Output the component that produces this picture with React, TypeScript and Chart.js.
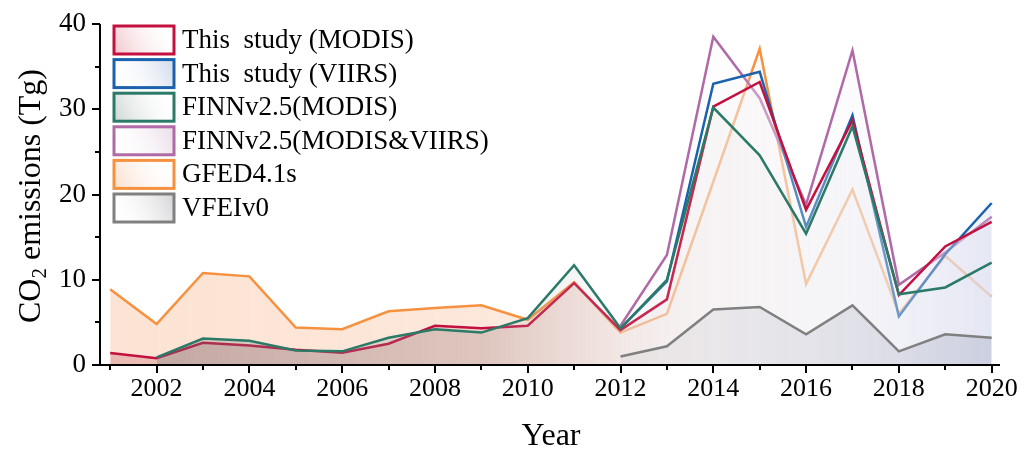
import React, { useEffect, useRef } from "react";
import { Chart, registerables } from "chart.js";

Chart.register(...registerables);

// ---------- data ----------
const years = [2001, 2002, 2003, 2004, 2005, 2006, 2007, 2008, 2009, 2010, 2011, 2012, 2013, 2014, 2015, 2016, 2017, 2018, 2019, 2020];
const xTickYears = [2002, 2004, 2006, 2008, 2010, 2012, 2014, 2016, 2018, 2020];
const yTickValues = [0, 10, 20, 30, 40];

const seriesLabels = [
  "This  study (MODIS)",
  "This  study (VIIRS)",
  "FINNv2.5(MODIS)",
  "FINNv2.5(MODIS&VIIRS)",
  "GFED4.1s",
  "VFEIv0",
];

const thisStudyModis = [1.4, 0.8, 2.6, 2.3, 1.8, 1.45, 2.5, 4.6, 4.3, 4.6, 9.6, 4.1, 7.7, 30.3, 33.2, 18.2, 28.7, 8.2, 13.9, 16.8];
const thisStudyViirs = [null, null, null, null, null, null, null, null, null, null, null, 4.3, 9.8, 33.0, 34.4, 16.2, 29.3, 5.7, 13.0, 19.0];
const finnModis = [null, 0.9, 3.1, 2.85, 1.7, 1.6, 3.2, 4.2, 3.8, 5.5, 11.7, 4.3, 10.0, 30.2, 24.6, 15.4, 28.0, 8.3, 9.1, 12.0];
const finnModisViirs = [null, null, null, null, null, null, null, null, null, null, null, 4.6, 12.9, 38.5, 31.3, 18.8, 36.9, 9.4, 13.2, 17.4];
const gfed = [8.9, 4.8, 10.8, 10.4, 4.4, 4.2, 6.3, 6.7, 7.0, 5.3, 9.7, 3.8, 6.0, 21.5, 37.1, 9.5, 20.6, 6.0, 12.8, 8.0];
const vfei = [null, null, null, null, null, null, null, null, null, null, null, 1.0, 2.2, 6.5, 6.8, 3.6, 7.0, 1.6, 3.6, 3.2];

// ---------- styles ----------
const FONT = "'Liberation Serif', 'Times New Roman', serif";
const lineColors = ["#c3103f", "#1a62ad", "#2b7a68", "#b06aa6", "#f5913f", "#808080"];
// lower order = drawn on top
const drawOrders = [2, 3, 1, 4, 5, 0];
const fillStops: [number, string][][] = [
  [[2001, "rgba(200,110,115,0.35)"], [2009, "rgba(210,160,160,0.3)"], [2012, "rgba(228,208,208,0.3)"], [2014, "rgba(246,242,242,0.25)"], [2017, "rgba(246,246,250,0.3)"], [2020, "rgba(232,232,244,0.35)"]],
  [[2012, "rgba(250,250,252,0.1)"], [2017, "rgba(240,242,250,0.15)"], [2020, "rgba(200,208,235,0.3)"]],
  [[2002, "rgba(100,120,120,0.3)"], [2009, "rgba(150,145,145,0.2)"], [2012, "rgba(220,212,212,0.12)"], [2020, "rgba(225,228,238,0.1)"]],
  [[2012, "rgba(248,246,246,0.2)"], [2016, "rgba(246,245,248,0.22)"], [2018, "rgba(235,235,245,0.3)"], [2020, "rgba(222,222,240,0.45)"]],
  [[2001, "rgba(247,175,130,0.35)"], [2009, "rgba(247,178,135,0.3)"], [2011, "rgba(245,185,150,0.22)"], [2013, "rgba(240,200,180,0.1)"], [2020, "rgba(220,215,230,0.06)"]],
  [[2012, "rgba(200,200,205,0.2)"], [2020, "rgba(160,165,190,0.35)"]],
];
const legendBoxStops: string[][] = [
  ["rgba(215,90,110,0.35)", "rgba(255,255,255,0)"],
  ["rgba(255,255,255,0)", "rgba(120,150,200,0.35)"],
  ["rgba(90,120,110,0.3)", "rgba(255,255,255,0)"],
  ["rgba(255,255,255,0)", "rgba(180,140,180,0.3)"],
  ["rgba(247,175,130,0.4)", "rgba(255,255,255,0)"],
  ["rgba(255,255,255,0)", "rgba(130,130,140,0.35)"],
];

const X_MIN = 2000.78;
const X_MAX = 2020.18;

function makeGrad(chart: any, stops: [number, string][]) {
  const { ctx, chartArea, scales } = chart;
  if (!chartArea || !scales || !scales.x) return "rgba(0,0,0,0)";
  const g = ctx.createLinearGradient(chartArea.left, 0, chartArea.right, 0);
  const w = chartArea.right - chartArea.left;
  for (const [yr, col] of stops) {
    const f = (scales.x.getPixelForValue(yr) - chartArea.left) / w;
    g.addColorStop(Math.min(1, Math.max(0, f)), col);
  }
  return g;
}

const seriesValues = [thisStudyModis, thisStudyViirs, finnModis, finnModisViirs, gfed, vfei];

const decorPlugin = {
  id: "decor",
  afterDraw(chart: any) {
    const { ctx, chartArea, scales } = chart;
    const x = scales.x;
    const y = scales.y;
    ctx.save();
    ctx.strokeStyle = "#000";
    ctx.lineWidth = 2;
    ctx.lineCap = "butt";
    // axis lines
    ctx.beginPath();
    ctx.moveTo(chartArea.left, chartArea.top);
    ctx.lineTo(chartArea.left, chartArea.bottom + 1);
    ctx.moveTo(chartArea.left - 1, chartArea.bottom);
    ctx.lineTo(chartArea.right, chartArea.bottom);
    ctx.stroke();
    // x ticks (major every 2 years, minor every year)
    ctx.beginPath();
    for (let yr = 2001; yr <= 2020; yr++) {
      const px = Math.round(x.getPixelForValue(yr));
      const len = yr % 2 === 0 ? 8 : 5;
      ctx.moveTo(px, chartArea.bottom);
      ctx.lineTo(px, chartArea.bottom + len);
    }
    // y ticks (major 10, minor 5)
    for (let v = 0; v <= 40; v += 5) {
      const py = Math.round(y.getPixelForValue(v));
      const len = v % 10 === 0 ? 8 : 5;
      ctx.moveTo(chartArea.left - len, py);
      ctx.lineTo(chartArea.left, py);
    }
    ctx.stroke();

    // y title with subscript
    ctx.fillStyle = "#000";
    const big = `32px ${FONT}`;
    const small = `21px ${FONT}`;
    ctx.font = big;
    const w1 = ctx.measureText("CO").width;
    const w3 = ctx.measureText(" emissions (Tg)").width;
    ctx.font = small;
    const w2 = ctx.measureText("2").width;
    const total = w1 + w2 + w3;
    ctx.save();
    ctx.translate(40, 196);
    ctx.rotate(-Math.PI / 2);
    ctx.textBaseline = "alphabetic";
    ctx.textAlign = "left";
    let sx = -total / 2;
    ctx.font = big;
    ctx.fillText("CO", sx, 0);
    sx += w1;
    ctx.font = small;
    ctx.fillText("2", sx, 6);
    sx += w2;
    ctx.font = big;
    ctx.fillText(" emissions (Tg)", sx, 0);
    ctx.restore();

    // x title
    ctx.font = big;
    ctx.textAlign = "center";
    ctx.textBaseline = "alphabetic";
    ctx.fillText("Year", 551, 445);

    // legend
    const boxL = 114;
    const boxW = 60;
    const boxH = 28;
    const rowTop = 26;
    const rowStep = 33.6;
    ctx.font = `27px ${FONT}`;
    ctx.textAlign = "left";
    ctx.textBaseline = "middle";
    seriesLabels.forEach((lab, i) => {
      const top = rowTop + i * rowStep;
      const g = ctx.createLinearGradient(boxL, top + boxH, boxL + boxW, top);
      g.addColorStop(0, legendBoxStops[i][0]);
      g.addColorStop(1, legendBoxStops[i][1]);
      ctx.fillStyle = "#fff";
      ctx.fillRect(boxL, top, boxW, boxH);
      ctx.fillStyle = g;
      ctx.fillRect(boxL, top, boxW, boxH);
      ctx.strokeStyle = lineColors[i];
      ctx.lineWidth = 3;
      ctx.strokeRect(boxL, top, boxW, boxH);
      ctx.fillStyle = "#000";
      ctx.fillText(lab, 182, top + boxH / 2 + 1);
    });
    ctx.restore();
  },
};

export default function App() {
  const ref = useRef<HTMLCanvasElement | null>(null);
  useEffect(() => {
    if (!ref.current) return;
    const datasets = seriesValues.map((arr, i) => ({
      label: seriesLabels[i],
      data: years
        .map((yr, j) => ({ x: yr, y: arr[j] }))
        .filter((p) => p.y !== null && p.y !== undefined) as any,
      borderColor: lineColors[i],
      borderWidth: 2.5,
      pointRadius: 0,
      tension: 0,
      fill: "origin",
      order: drawOrders[i],
      backgroundColor: (c: any) => makeGrad(c.chart, fillStops[i]),
    }));
    const chart = new Chart(ref.current, {
      type: "line",
      data: { datasets },
      options: {
        responsive: false,
        animation: false,
        layout: { padding: { left: 0, right: 24, top: 24, bottom: 0 } },
        plugins: { legend: { display: false }, tooltip: { enabled: false } },
        scales: {
          x: {
            type: "linear",
            min: X_MIN,
            max: X_MAX,
            grid: { display: false, drawTicks: false },
            border: { display: false },
            afterFit: (s: any) => {
              s.height = 85;
              s.paddingLeft = 0;
              s.paddingRight = 0;
            },
            afterBuildTicks: (s: any) => {
              s.ticks = xTickYears.map((v) => ({ value: v }));
            },
            ticks: {
              color: "#000",
              font: { family: FONT, size: 26 },
              padding: 9,
              maxRotation: 0,
              autoSkip: false,
              callback: (v: any) => String(v),
            },
          },
          y: {
            min: 0,
            max: 40,
            grid: { display: false, drawTicks: false },
            border: { display: false },
            afterFit: (s: any) => {
              s.width = 100;
              s.paddingTop = 0;
              s.paddingBottom = 0;
            },
            afterBuildTicks: (s: any) => {
              s.ticks = yTickValues.map((v) => ({ value: v }));
            },
            ticks: {
              color: "#000",
              font: { family: FONT, size: 27 },
              padding: 14,
              callback: (v: any) => String(v),
            },
          },
        },
      },
      plugins: [decorPlugin],
    });
    return () => chart.destroy();
  }, []);
  return (
    <div style={{ position: "absolute", left: 0, top: 0, width: 1024, height: 450, background: "#fff" }}>
      <canvas ref={ref} width={1024} height={450} style={{ width: 1024, height: 450, display: "block" }} />
    </div>
  );
}
